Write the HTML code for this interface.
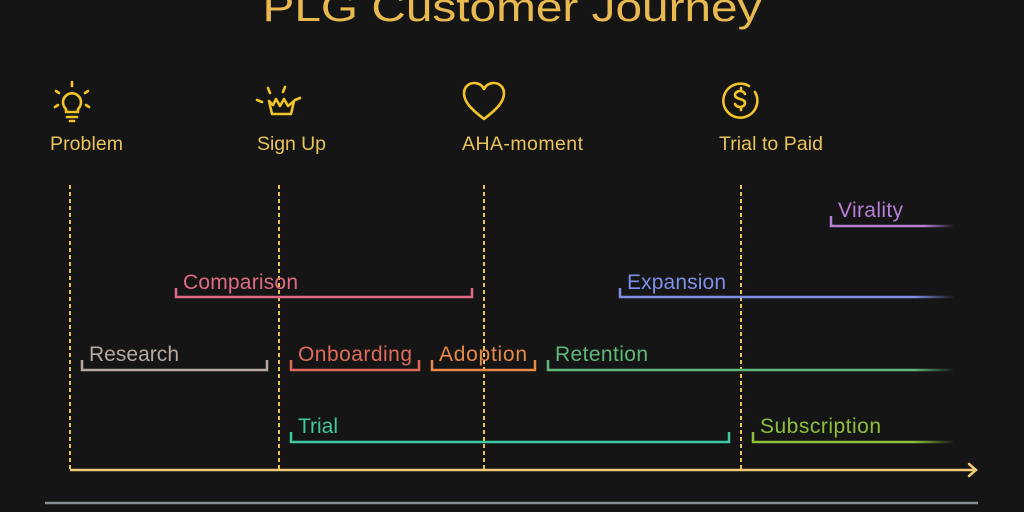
<!DOCTYPE html>
<html><head><meta charset="utf-8"><style>
html,body{margin:0;padding:0;background:#151515;}
svg{display:block}
text{font-family:"Liberation Sans",sans-serif;}
</style></head><body>
<svg width="1024" height="512" viewBox="0 0 1024 512" xmlns="http://www.w3.org/2000/svg">
<defs>
<linearGradient id="fv" x1="831" x2="955" gradientUnits="userSpaceOnUse"><stop offset="0.75" stop-color="#b57fd6"/><stop offset="1" stop-color="#b57fd6" stop-opacity="0"/></linearGradient>
<linearGradient id="fe" x1="620" x2="955" gradientUnits="userSpaceOnUse"><stop offset="0.88" stop-color="#7f8ee6"/><stop offset="1" stop-color="#7f8ee6" stop-opacity="0"/></linearGradient>
<linearGradient id="fr" x1="548" x2="955" gradientUnits="userSpaceOnUse"><stop offset="0.9" stop-color="#5fb87a"/><stop offset="1" stop-color="#5fb87a" stop-opacity="0"/></linearGradient>
<linearGradient id="fs" x1="753" x2="955" gradientUnits="userSpaceOnUse"><stop offset="0.8" stop-color="#8cbf3a"/><stop offset="1" stop-color="#8cbf3a" stop-opacity="0"/></linearGradient>
</defs>
<rect width="1024" height="512" fill="#151515"/>
<text x="512" y="21" font-size="40" fill="#e8b94f" text-anchor="middle" textLength="499" lengthAdjust="spacingAndGlyphs">PLG Customer Journey</text>

<g stroke="#f2c42a" stroke-width="2.6" fill="none" stroke-linecap="round" stroke-linejoin="round">
 <path d="M66 112 v-3 a9 9 0 1 1 12 0 v3 z"/><path d="M67 117 h10 M70 121 h4"/>
 <path d="M72 82 v4 M56 91 l3 2 M88 91 l-3 2 M55 107 l3 -2 M89 107 l-3 -2"/>
 <path d="M269 101 l3 13 h19 l3 -13 l-6 5 l-4 -7 l-4 7 l-4 -7 l-3 6 z"/>
 <path d="M268 88 l2 5 M285 87 l-2 5 M257 100 l5 2 M300 98 l-5 2"/>
 <path d="M484 119 C471 109 464 102 464 93 C464 87 469 83 474 83 C479 83 482 85 484 89 C486 85 489 83 494 83 C499 83 504 87 504 93 C504 102 497 109 484 119 Z"/>
 <path d="M749 86 A17 17 0 1 0 755 92"/>
 <path d="M745 94 c-1 -2 -3 -3 -5 -3 c-3 0 -5 2 -5 4 c0 5 10 3 10 8 c0 2 -2 4 -5 4 c-2 0 -4 -1 -5 -3 M741 88 v3 M741 107 v3"/>
</g>
<g font-size="19.5" fill="#e8c35a" lengthAdjust="spacingAndGlyphs">
<text x="50" y="150" textLength="73">Problem</text>
<text x="257" y="150" textLength="69">Sign Up</text>
<text x="462" y="150" textLength="121">AHA-moment</text>
<text x="719" y="150" textLength="104">Trial to Paid</text>
</g>

<g stroke="#e8c35a" stroke-width="2" stroke-dasharray="4 3">
<line x1="70" y1="185" x2="70" y2="470"/>
<line x1="279" y1="185" x2="279" y2="470"/>
<line x1="484" y1="185" x2="484" y2="470"/>
<line x1="741" y1="185" x2="741" y2="470"/>
</g>
<line x1="70" y1="470" x2="975" y2="470" stroke="#f0c977" stroke-width="2.5"/>
<path d="M969 464 L976 470 L969 476" stroke="#f0c977" stroke-width="2.5" fill="none" stroke-linecap="round"/>
<line x1="45" y1="503" x2="978" y2="503" stroke="#8a8d96" stroke-width="2.5"/>

<g stroke-width="2.5" fill="none">
<path d="M831 216 V226 H955" stroke="url(#fv)"/>
<path d="M176 288 V297 H472 V288" stroke="#e06a85"/>
<path d="M620 288 V297 H955" stroke="url(#fe)"/>
<path d="M82 360 V370 H267 V360" stroke="#b8a8a0"/>
<path d="M291 360 V370 H419 V360" stroke="#e06a5a"/>
<path d="M432 360 V370 H535 V360" stroke="#e8894a"/>
<path d="M548 360 V370 H955" stroke="url(#fr)"/>
<path d="M291 432 V442 H729 V432" stroke="#3ec9a0"/>
<path d="M753 432 V442 H955" stroke="url(#fs)"/>
</g>
<g font-size="21" lengthAdjust="spacingAndGlyphs">
<text x="838" y="217" fill="#b57fd6" textLength="65">Virality</text>
<text x="183" y="289" fill="#e06a85" textLength="115">Comparison</text>
<text x="627" y="289" fill="#7f8ee6" textLength="99">Expansion</text>
<text x="89" y="361" fill="#b8a8a0" textLength="90">Research</text>
<text x="298" y="361" fill="#e06a5a" textLength="114">Onboarding</text>
<text x="439" y="361" fill="#e8894a" textLength="88">Adoption</text>
<text x="555" y="361" fill="#5fb87a" textLength="93">Retention</text>
<text x="298" y="433" fill="#3ec9a0" textLength="40">Trial</text>
<text x="760" y="433" fill="#8cbf3a" textLength="121">Subscription</text>
</g>
</svg>
</body></html>
